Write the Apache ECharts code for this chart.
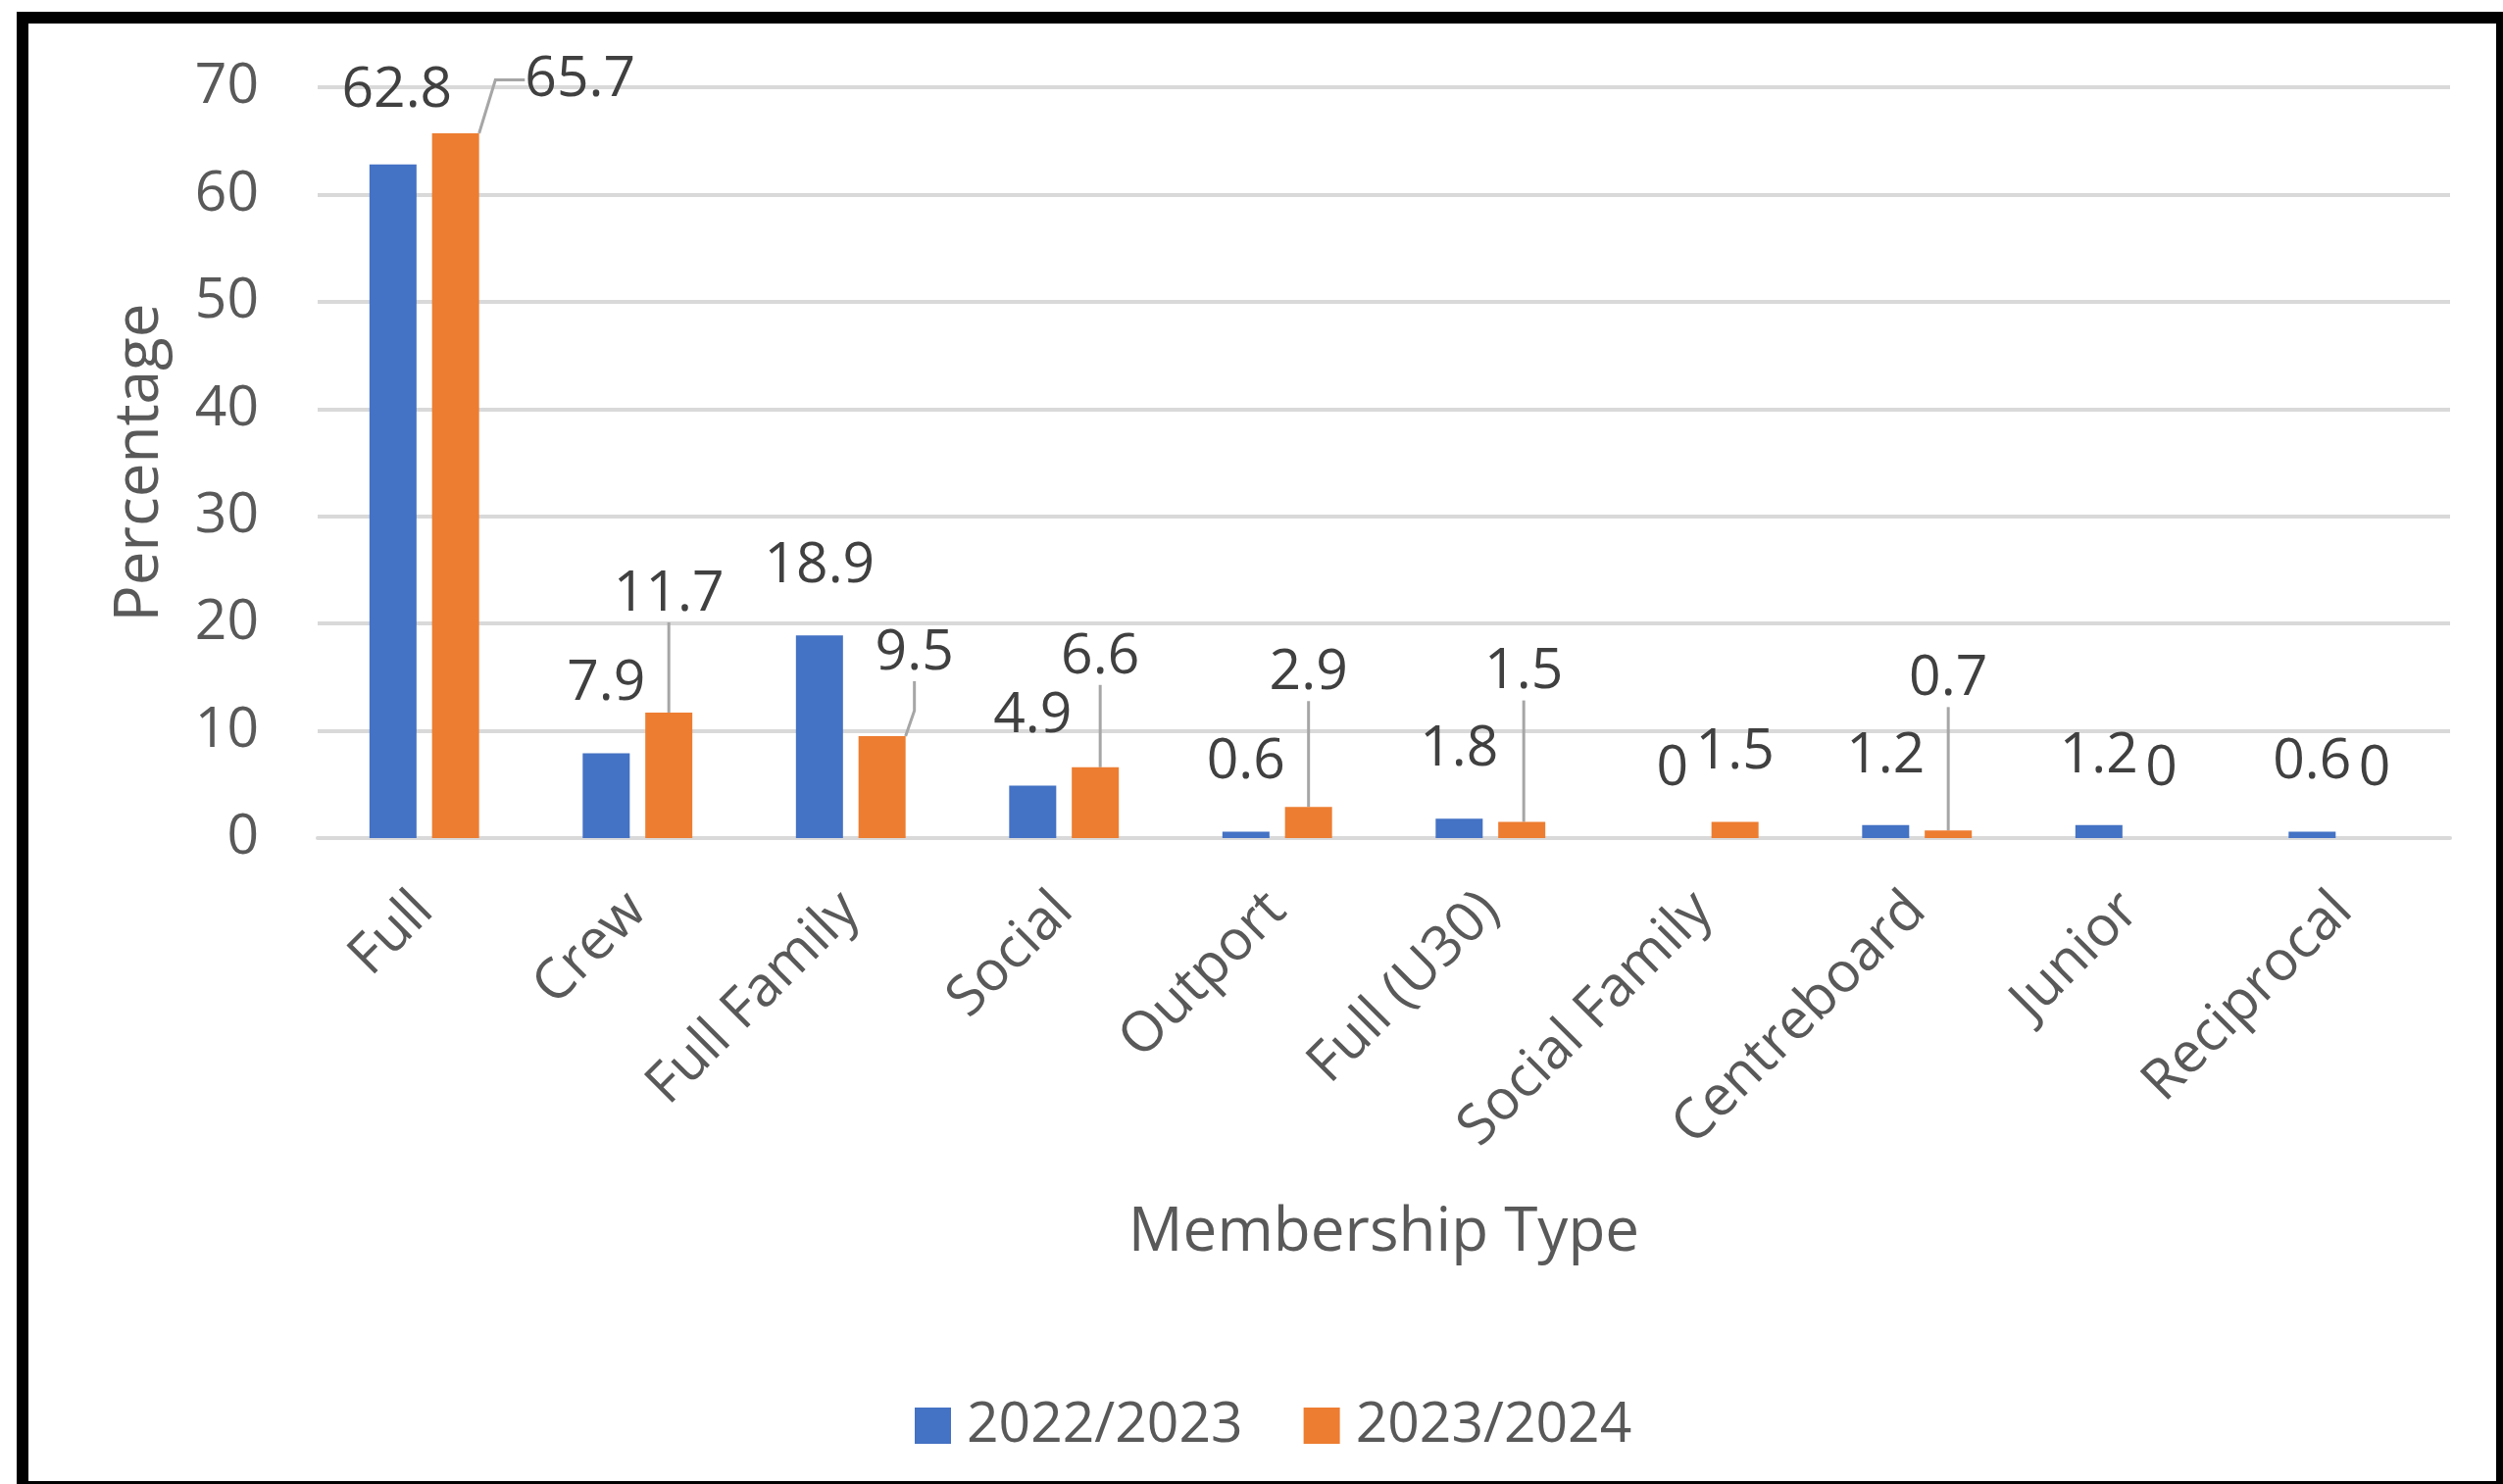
<!DOCTYPE html>
<html>
<head>
<meta charset="utf-8">
<title>Membership Type</title>
<script src="https://cdn.jsdelivr.net/npm/echarts@6/dist/echarts.min.js"></script>
<style>
  html, body { margin: 0; padding: 0; overflow: hidden; background: #fff; }
  #chart { position: absolute; left: 0; top: 0; width: 2553px; height: 1514px; }
  #frame {
    position: absolute; left: 17px; top: 12px; width: 2541px; height: 1511px;
    border: 12px solid #000; box-sizing: border-box; pointer-events: none;
  }
</style>
</head>
<body>
<div id="chart"></div>
<div id="frame"></div>
<script>
// data
const categories = ['Full', 'Crew', 'Full Family', 'Social', 'Outport', 'Full (U30)',
  'Social Family', 'Centreboard', 'Junior', 'Reciprocal'];
const seriesNames = ['2022/2023', '2023/2024'];
const values2022 = [62.8, 7.9, 18.9, 4.9, 0.6, 1.8, 0, 1.2, 1.2, 0.6];
const values2023 = [65.7, 11.7, 9.5, 6.6, 2.9, 1.5, 1.5, 0.7, 0, 0];

// hand-moved data labels (pixel shifts from the default spot), as in the original
const labelDx = [
  [4, 0, 0, 0, 0, 0, 0, 0, 0, 0],
  [127, 0, 33, 5, 0, 2, 0, 0, 0, 0]
];
const labelDy = [
  [-5, 0, 0, 0, 0, 0, 0, 0, 0, 0],
  [16, -50, -14, -42, -66, -82, 0, -84, 0, 0]
];
const leaderLines = [[], [0, 1, 2, 3, 4, 5, 7]];

const font = "'Open Sans', 'Liberation Sans', sans-serif";
const colors = ['#4472C4', '#ED7D31'];

function buildData(values, s) {
  return values.map((v, i) => {
    if (leaderLines[s].indexOf(i) >= 0) {
      return { value: v, labelLine: { show: true } };
    }
    return v;
  });
}

let myChart = echarts.init(document.getElementById('chart'), null, { renderer: 'canvas' });

let option = {
  animation: false,
  backgroundColor: '#fff',
  color: colors,
  grid: {
    left: 324,
    right: 54,
    top: 89,
    bottom: 659
  },
  legend: {
    data: seriesNames,
    left: 928,
    top: 1421,
    itemWidth: 37,
    itemHeight: 37,
    itemGap: 62,
    icon: 'rect',
    textStyle: {
      fontSize: 57,
      fontFamily: font,
      color: '#595959',
      padding: [0, 0, 0, 11]
    }
  },
  xAxis: {
    type: 'category',
    data: categories,
    name: 'Membership Type',
    nameLocation: 'middle',
    nameGap: 372,
    nameMoveOverlap: false,
    nameTextStyle: { fontSize: 62, fontFamily: font, color: '#595959' },
    axisTick: { show: false },
    axisLine: { lineStyle: { color: '#D9D9D9', width: 4 } },
    axisLabel: {
      interval: 0,
      rotate: 45,
      margin: 65,
      padding: [40, 0, 0, 0],
      fontSize: 57,
      fontFamily: font,
      color: '#595959'
    }
  },
  yAxis: {
    type: 'value',
    min: 0,
    max: 70,
    interval: 10,
    name: 'Percentage',
    nameLocation: 'middle',
    nameGap: 150,
    nameMoveOverlap: false,
    nameTextStyle: { fontSize: 62, fontFamily: font, color: '#595959' },
    axisLine: { show: false },
    axisTick: { show: false },
    axisLabel: { margin: 60, fontSize: 57, fontFamily: font, color: '#595959' },
    splitLine: { lineStyle: { color: '#D9D9D9', width: 4 } }
  },
  series: [values2022, values2023].map((vals, s) => ({
    name: seriesNames[s],
    type: 'bar',
    barWidth: 48,
    barGap: '33%',
    data: buildData(vals, s),
    label: {
      show: true,
      position: 'top',
      distance: 42,
      fontSize: 57,
      fontFamily: font,
      color: '#404040'
    },
    labelLine: {
      show: false,
      length2: 30,
      lineStyle: { color: '#A6A6A6', width: 3 }
    },
    labelLayout: function (p) {
      return { dx: labelDx[p.seriesIndex][p.dataIndex], dy: labelDy[p.seriesIndex][p.dataIndex] };
    }
  }))
};

myChart.setOption(option);
</script>
</body>
</html>
